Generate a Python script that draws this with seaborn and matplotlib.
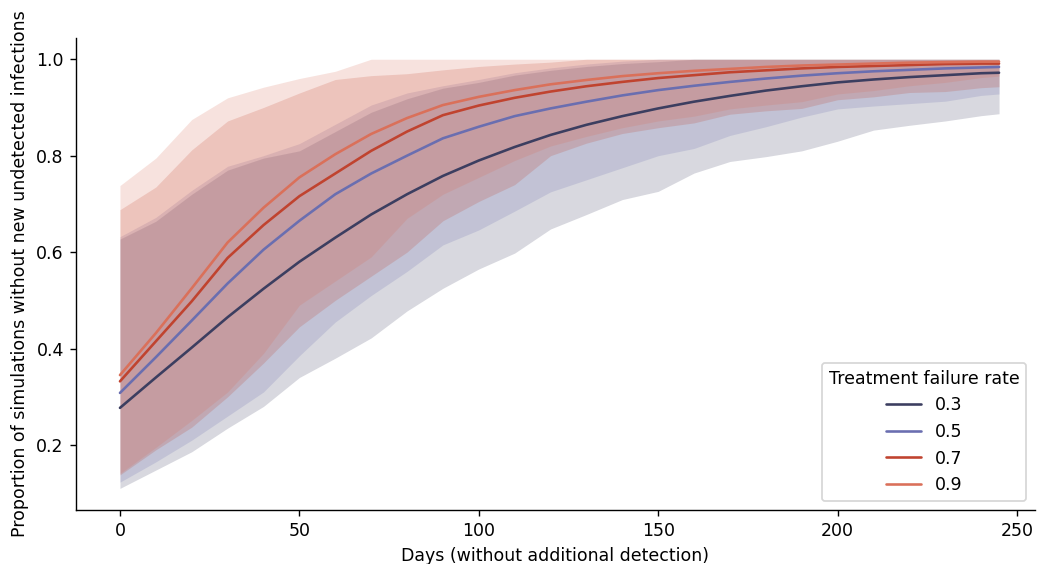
import numpy as np
import pandas as pd
import matplotlib
matplotlib.use('Agg')
import matplotlib.pyplot as plt
import seaborn as sns

# days on the x axis
days = [0, 10, 20, 30, 40, 50, 60, 70, 80, 90, 100, 110, 120, 130, 140, 150,
        160, 170, 180, 190, 200, 210, 220, 230, 240, 245]

rates = ['0.3', '0.5', '0.7', '0.9']

# mean proportion per treatment failure rate
mean_03 = [0.277, 0.340, 0.402, 0.465, 0.524, 0.580, 0.630, 0.678, 0.720, 0.758, 0.790, 0.818, 0.843,
           0.864, 0.882, 0.898, 0.912, 0.924, 0.935, 0.944, 0.952, 0.958, 0.963, 0.967, 0.971, 0.972]
mean_05 = [0.308, 0.382, 0.458, 0.535, 0.605, 0.665, 0.720, 0.763, 0.800, 0.836, 0.860, 0.882, 0.898,
           0.912, 0.925, 0.936, 0.945, 0.953, 0.960, 0.966, 0.971, 0.975, 0.978, 0.981, 0.983, 0.984]
mean_07 = [0.332, 0.415, 0.498, 0.588, 0.656, 0.716, 0.763, 0.810, 0.850, 0.884, 0.904, 0.920, 0.933,
           0.944, 0.953, 0.961, 0.967, 0.973, 0.977, 0.981, 0.984, 0.986, 0.988, 0.990, 0.991, 0.991]
mean_09 = [0.345, 0.432, 0.525, 0.620, 0.692, 0.755, 0.803, 0.845, 0.878, 0.905, 0.922, 0.936, 0.948,
           0.957, 0.965, 0.971, 0.976, 0.980, 0.984, 0.987, 0.989, 0.991, 0.993, 0.994, 0.995, 0.995]

# lower bounds of the interval
low_03 = [0.110, 0.148, 0.186, 0.235, 0.280, 0.340, 0.380, 0.422, 0.478, 0.525, 0.565, 0.598, 0.648,
          0.678, 0.709, 0.726, 0.764, 0.788, 0.798, 0.810, 0.830, 0.853, 0.863, 0.872, 0.883, 0.887]
low_05 = [0.123, 0.165, 0.210, 0.260, 0.310, 0.385, 0.455, 0.510, 0.560, 0.615, 0.646, 0.685, 0.725,
          0.750, 0.775, 0.800, 0.815, 0.842, 0.860, 0.880, 0.897, 0.903, 0.908, 0.913, 0.925, 0.928]
low_07 = [0.138, 0.190, 0.237, 0.300, 0.370, 0.445, 0.500, 0.550, 0.600, 0.665, 0.705, 0.740, 0.800,
          0.826, 0.846, 0.858, 0.868, 0.886, 0.893, 0.898, 0.916, 0.922, 0.931, 0.933, 0.941, 0.943]
low_09 = [0.141, 0.195, 0.251, 0.310, 0.390, 0.490, 0.540, 0.590, 0.670, 0.720, 0.755, 0.790, 0.820,
          0.840, 0.858, 0.872, 0.882, 0.897, 0.905, 0.912, 0.928, 0.935, 0.945, 0.952, 0.962, 0.965]

# upper bounds of the interval
up_03 = [0.627, 0.664, 0.720, 0.770, 0.795, 0.810, 0.850, 0.890, 0.918, 0.940, 0.952, 0.967, 0.977,
         0.985, 0.991, 0.995, 1.0, 1.0, 1.0, 1.0, 1.0, 1.0, 1.0, 1.0, 1.0, 1.0]
up_05 = [0.632, 0.672, 0.728, 0.778, 0.800, 0.825, 0.865, 0.905, 0.930, 0.945, 0.958, 0.972, 0.982,
         0.990, 0.996, 1.0, 1.0, 1.0, 1.0, 1.0, 1.0, 1.0, 1.0, 1.0, 1.0, 1.0]
up_07 = [0.688, 0.735, 0.812, 0.872, 0.900, 0.930, 0.958, 0.966, 0.970, 0.978, 0.985, 0.990, 0.994,
         1.0, 1.0, 1.0, 1.0, 1.0, 1.0, 1.0, 1.0, 1.0, 1.0, 1.0, 1.0, 1.0]
up_09 = [0.738, 0.795, 0.875, 0.920, 0.942, 0.960, 0.975, 1.0, 1.0, 1.0, 1.0, 1.0, 1.0,
         1.0, 1.0, 1.0, 1.0, 1.0, 1.0, 1.0, 1.0, 1.0, 1.0, 1.0, 1.0, 1.0]

colors = {'0.3': '#3c3e60', '0.5': '#6a6eb0', '0.7': '#c0432f', '0.9': '#da705a'}

means = {'0.3': mean_03, '0.5': mean_05, '0.7': mean_07, '0.9': mean_09}
lows = {'0.3': low_03, '0.5': low_05, '0.7': low_07, '0.9': low_09}
ups = {'0.3': up_03, '0.5': up_05, '0.7': up_07, '0.9': up_09}

rows = []
for r in rates:
    for d, m, lo, hi in zip(days, means[r], lows[r], ups[r]):
        rows.append({'day': d, 'rate': r, 'mean': m, 'low': lo, 'high': hi})
df = pd.DataFrame(rows)

sns.set_style('ticks', {'text.color': 'black', 'axes.labelcolor': 'black',
                        'xtick.color': 'black', 'ytick.color': 'black', 'axes.edgecolor': 'black'})
# 1037x564 px at dpi 125
fig, ax = plt.subplots(figsize=(8.296, 4.512), dpi=125)

# shaded intervals
for r in rates:
    sub = df[df['rate'] == r]
    ax.fill_between(sub['day'], sub['low'], sub['high'], color=colors[r], alpha=0.2, linewidth=0)

sns.lineplot(data=df, x='day', y='mean', hue='rate', hue_order=rates, palette=colors,
             linewidth=1.5, ax=ax)

ax.set_xlim(-12.25, 255)
ax.set_ylim(0.0655, 1.0445)
ax.set_yticks([0.2, 0.4, 0.6, 0.8, 1.0])
ax.set_xticks([0, 50, 100, 150, 200, 250])
ax.set_xlabel('Days (without additional detection)')
ax.set_ylabel('Proportion of simulations without new undetected infections')
ax.legend(title='Treatment failure rate', loc='lower right')
sns.despine(ax=ax)

fig.subplots_adjust(left=0.0733, right=0.998, bottom=0.096, top=0.933)
fig.savefig('out.png', dpi=125)
